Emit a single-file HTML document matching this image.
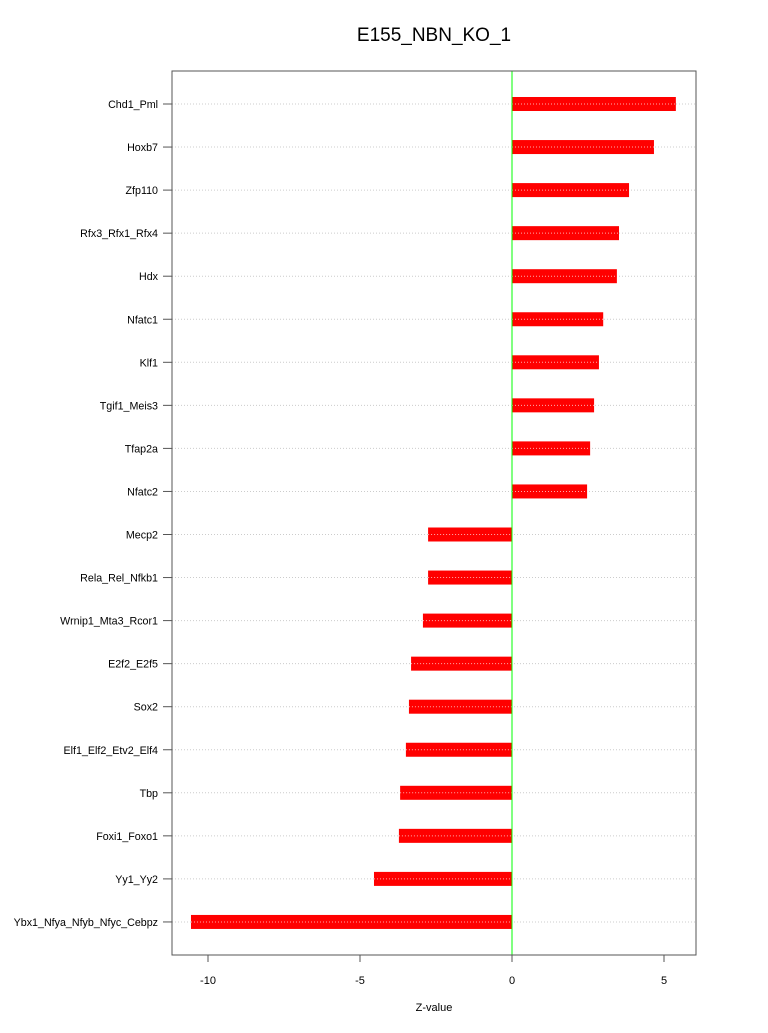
<!DOCTYPE html>
<html><head><meta charset="utf-8"><style>
body{margin:0;background:#fff;}
svg text{font-family:"Liberation Sans",sans-serif;}
</style></head><body>
<svg id="chart" width="768" height="1028" xmlns="http://www.w3.org/2000/svg">
<text x="434" y="41" font-size="19" text-anchor="middle">E155_NBN_KO_1</text>
<g id="grid"></g>
<g id="bars"></g>
<line id="zl" y1="71" y2="955" stroke="#00ff00" stroke-width="1"/>
<rect x="172" y="71" width="524" height="884" fill="none" stroke="#555" stroke-width="1"/>
<g id="axes"></g>
<text x="434" y="1011" font-size="11" text-anchor="middle">Z-value</text>
</svg>
<script>
const categories=["Chd1_Pml","Hoxb7","Zfp110","Rfx3_Rfx1_Rfx4","Hdx","Nfatc1","Klf1","Tgif1_Meis3","Tfap2a","Nfatc2","Mecp2","Rela_Rel_Nfkb1","Wrnip1_Mta3_Rcor1","E2f2_E2f5","Sox2","Elf1_Elf2_Etv2_Elf4","Tbp","Foxi1_Foxo1","Yy1_Yy2","Ybx1_Nfya_Nfyb_Nfyc_Cebpz"];
const values=[5.39,4.67,3.85,3.52,3.45,3.0,2.86,2.7,2.57,2.47,-2.76,-2.76,-2.93,-3.32,-3.39,-3.49,-3.68,-3.72,-4.54,-10.56];
const xTicks=[-10,-5,0,5];
const NS="http://www.w3.org/2000/svg";
function X(v){return 512+v*30.4;}
function Y(i){return 104+i*43.05;}
function mk(t,a,p){const e=document.createElementNS(NS,t);for(const k in a)e.setAttribute(k,a[k]);p.appendChild(e);return e;}
const grid=document.getElementById('grid'),bars=document.getElementById('bars'),axes=document.getElementById('axes');
document.getElementById('zl').setAttribute('x1',X(0));document.getElementById('zl').setAttribute('x2',X(0));
categories.forEach((c,i)=>{
  const y=Y(i);
  const g=mk('line',{x1:172,x2:696,y1:y,y2:y,stroke:'#ccc','stroke-dasharray':'1,2'},grid);
  
  
  const v=values[i];
  const b=mk('rect',{x:Math.min(X(0),X(v)),y:y-7,width:Math.abs(X(v)-X(0)),height:14,fill:'#ff0000'},bars);
  
  
  const d=mk('line',{x1:Math.min(X(0),X(v)),x2:Math.max(X(0),X(v)),y1:y,y2:y,stroke:'#ffaaaa','stroke-dasharray':'1,2'},bars);
  
  
  const tk=mk('line',{x1:163,x2:172,y1:y,y2:y,stroke:'#555'},axes);
  
  
  const t=mk('text',{x:158,y:y+4,'font-size':10.7,'text-anchor':'end'},axes);
  t.textContent=c;
  
  
});
const xl=mk('line',{x1:X(xTicks[0]),x2:X(xTicks[xTicks.length-1]),y1:955,y2:955,stroke:'#555'},axes);


xTicks.forEach(v=>{
  const l=mk('line',{x1:X(v),x2:X(v),y1:955,y2:962,stroke:'#555'},axes);
  
  
  const t=mk('text',{x:X(v),y:984,'font-size':11,'text-anchor':'middle'},axes);
  t.textContent=v;
  
  
});
</script>
</body></html>
